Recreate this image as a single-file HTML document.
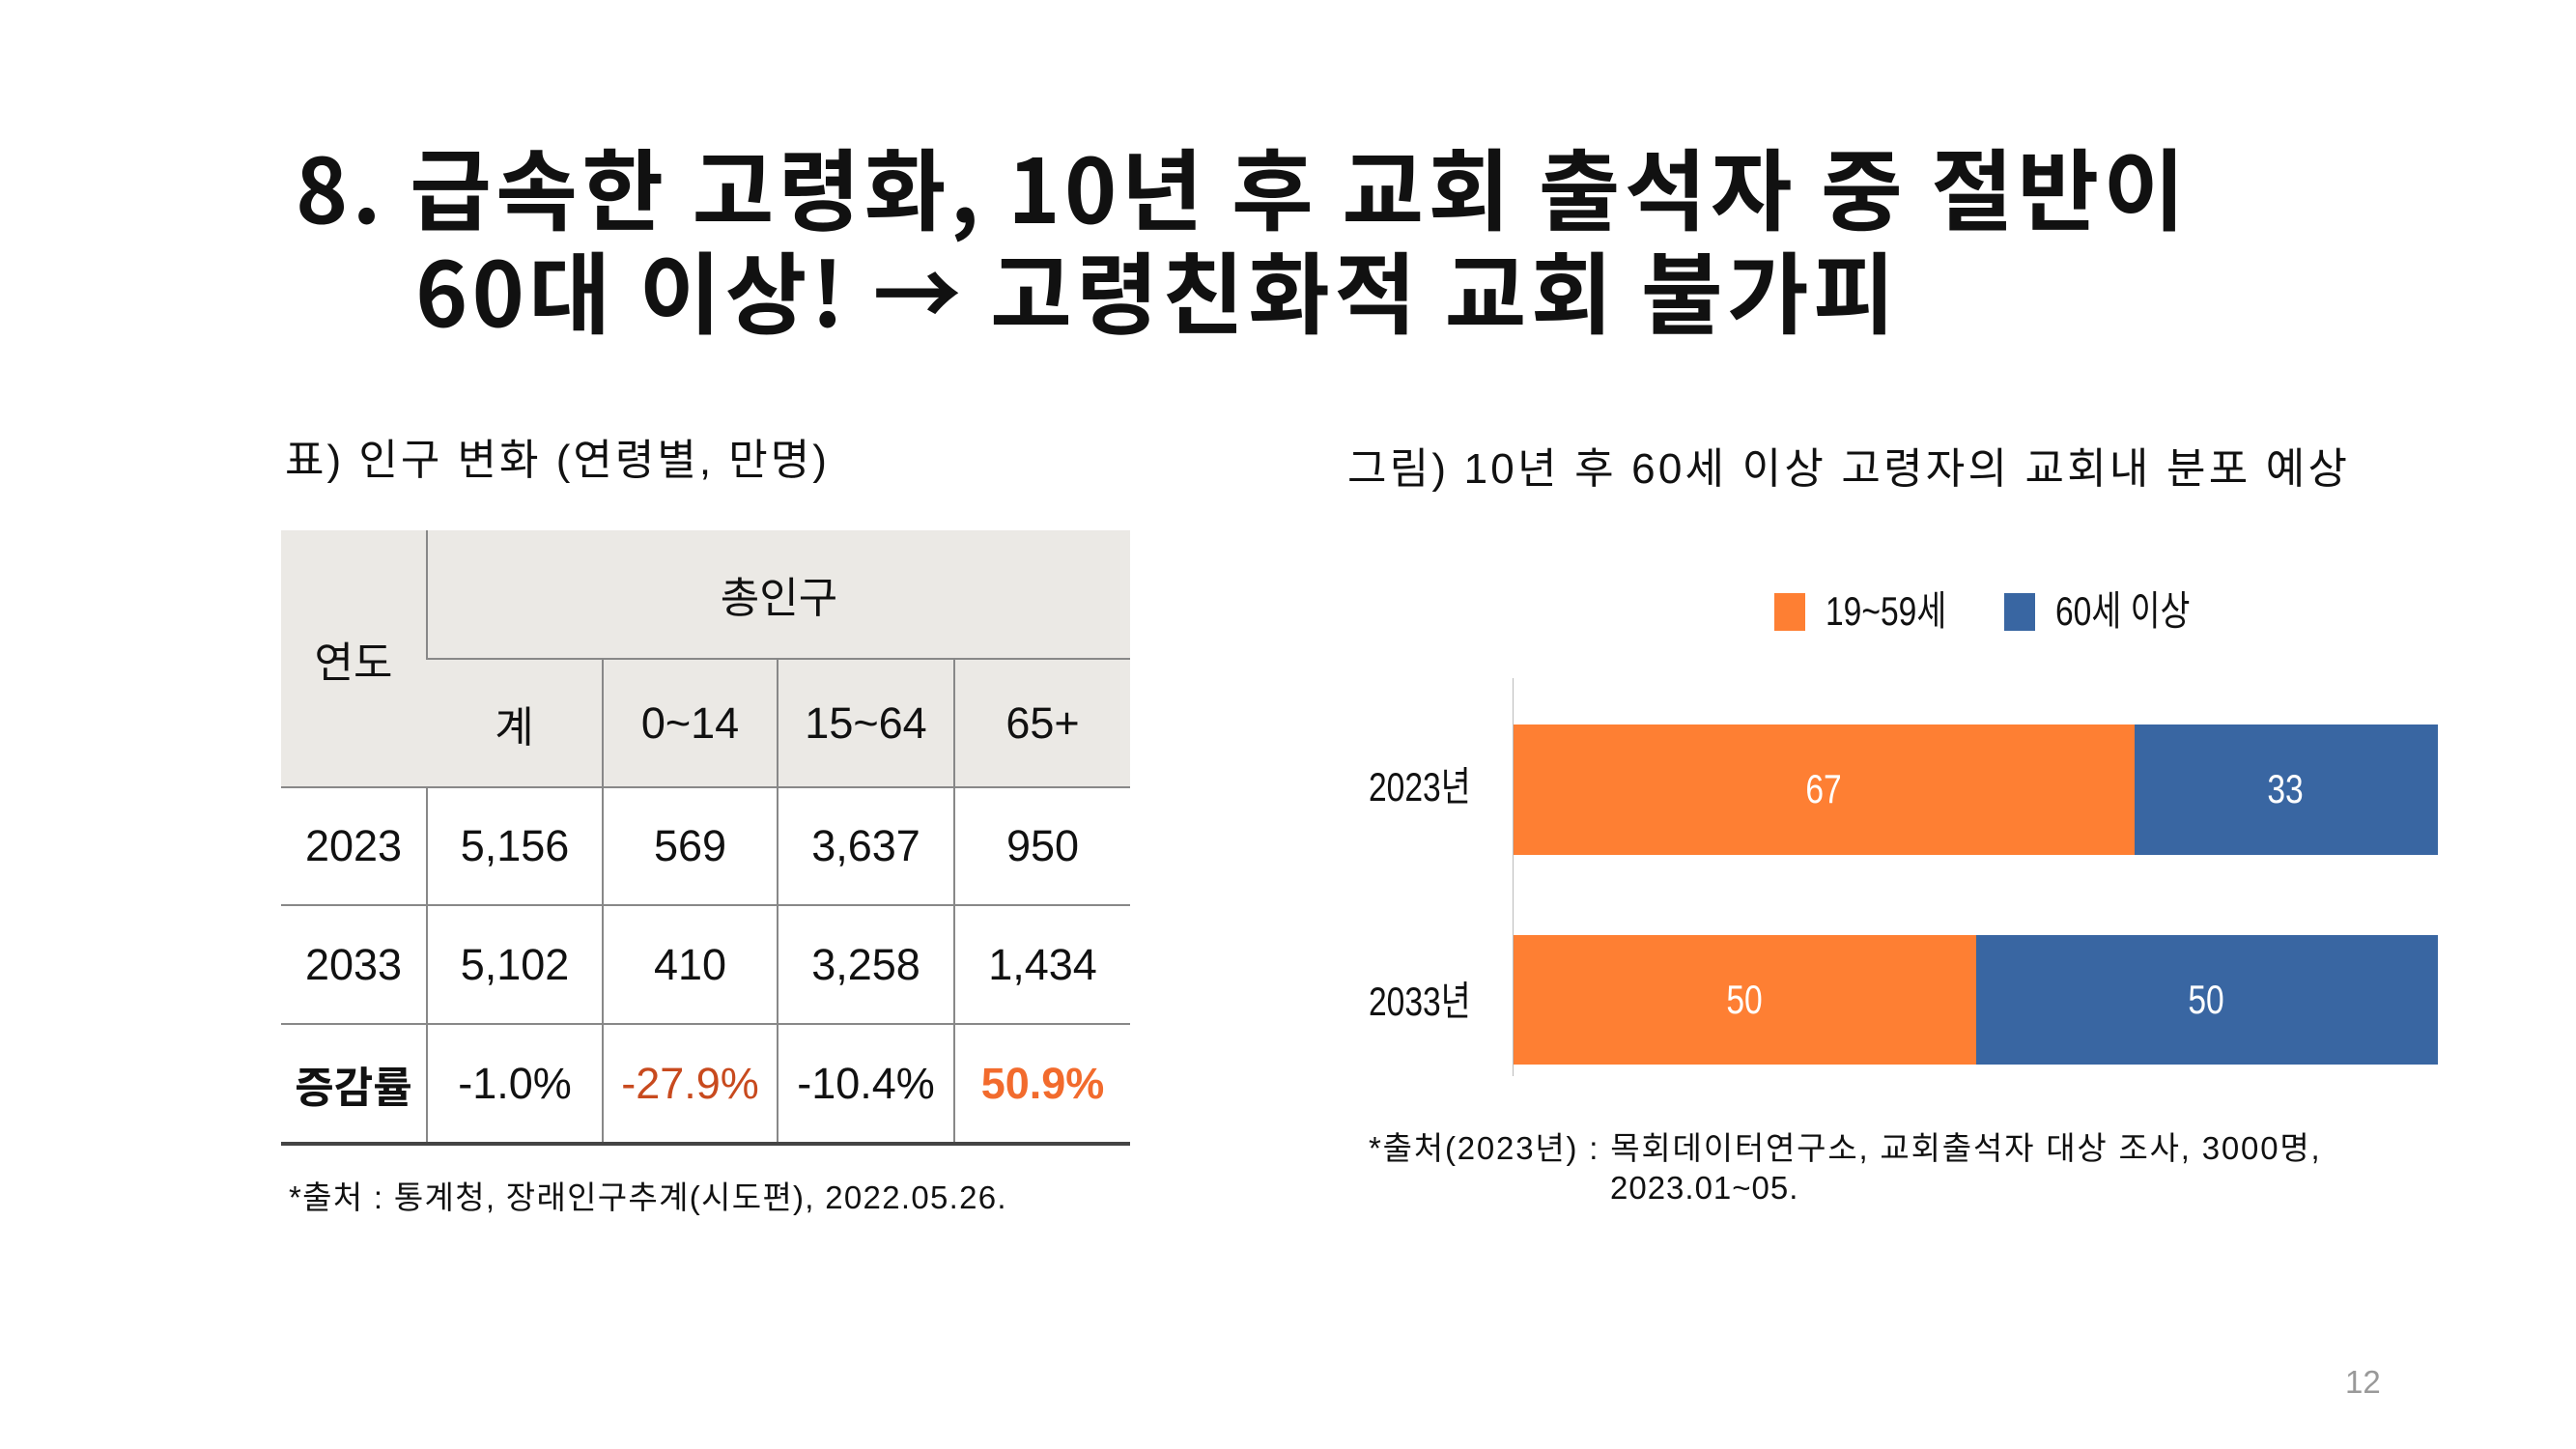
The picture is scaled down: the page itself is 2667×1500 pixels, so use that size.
<!DOCTYPE html>
<html><head><meta charset="utf-8"><style>
*{margin:0;padding:0;box-sizing:border-box}
body{width:2667px;height:1500px;background:#fff;position:relative;overflow:hidden;font-family:"Liberation Sans","Noto Sans CJK KR",sans-serif;color:#111}
.a{position:absolute;white-space:nowrap;line-height:1}
.t{font-weight:bold;font-size:92px;font-family:"Noto Sans CJK KR",sans-serif;letter-spacing:4.4px}
table{position:absolute;left:291px;top:549px;width:879px;border-collapse:collapse;font-family:"Noto Sans CJK KR",sans-serif;font-size:44px}
td{text-align:center;border-left:2px solid #888;border-top:2px solid #888;padding:0}
td:first-child{border-left:none}
.h{background:#ebe9e5}
.n{font-family:"Liberation Sans","Noto Sans CJK KR",sans-serif;font-size:45px}
.c{transform:scaleX(0.8);transform-origin:0 0}
.cc{transform:translateX(-50%) scaleX(0.8)}
</style></head><body>
<div class="a t" style="left:306px;top:146px">8. 급속한 고령화, 10년 후 교회 출석자 중 절반이</div>
<div class="a t" style="left:430px;top:253px">60대 이상! → 고령친화적 교회 불가피</div>
<div class="a" style="left:295px;top:455px;font-size:44px;letter-spacing:3px">표) 인구 변화 (연령별, 만명)</div>
<div class="a" style="left:1395px;top:464px;font-size:44px;letter-spacing:3.2px">그림) 10년 후 60세 이상 고령자의 교회내 분포 예상</div>

<table>
<tr style="height:133px"><td class="h" rowspan="2" style="width:151px;border-top:none">연도</td><td class="h" colspan="4" style="border-top:none">총인구</td></tr>
<tr style="height:133px"><td class="h" style="width:182px">계</td><td class="h n" style="width:181px">0~14</td><td class="h n" style="width:183px">15~64</td><td class="h n">65+</td></tr>
<tr style="height:122px"><td class="n">2023</td><td class="n">5,156</td><td class="n">569</td><td class="n">3,637</td><td class="n">950</td></tr>
<tr style="height:123px"><td class="n">2033</td><td class="n">5,102</td><td class="n">410</td><td class="n">3,258</td><td class="n">1,434</td></tr>
<tr style="height:124px;border-bottom:4px solid #444"><td style="font-weight:bold">증감률</td><td class="n">-1.0%</td><td class="n" style="color:#c84a1e">-27.9%</td><td class="n">-10.4%</td><td class="n" style="color:#f26b2d;font-weight:bold">50.9%</td></tr>
</table>
<div class="a" style="left:299px;top:1223px;font-size:33px;letter-spacing:1.3px">*출처 : 통계청, 장래인구추계(시도편), 2022.05.26.</div>

<div class="a" style="left:1837px;top:614px;width:32px;height:39px;background:#fe7f33"></div>
<div class="a c" style="left:1890px;top:612px;font-size:42px">19~59세</div>
<div class="a" style="left:2075px;top:614px;width:32px;height:39px;background:#3966a2"></div>
<div class="a c" style="left:2128px;top:612px;font-size:42px">60세 이상</div>
<div class="a" style="left:1566px;top:702px;width:1px;height:412px;background:#bbb"></div>
<div class="a" style="left:1567px;top:750px;width:643px;height:135px;background:#fe7f33"></div>
<div class="a" style="left:2210px;top:750px;width:314px;height:135px;background:#3966a2"></div>
<div class="a" style="left:1567px;top:968px;width:479px;height:134px;background:#fe7f33"></div>
<div class="a" style="left:2046px;top:968px;width:478px;height:134px;background:#3966a2"></div>
<div class="a c" style="left:1417px;top:794px;font-size:42px">2023년</div>
<div class="a c" style="left:1417px;top:1016px;font-size:42px">2033년</div>
<div class="a cc" style="left:1888px;top:796px;font-size:42px;color:#fff">67</div>
<div class="a cc" style="left:2366px;top:796px;font-size:42px;color:#fff">33</div>
<div class="a cc" style="left:1806px;top:1014px;font-size:42px;color:#fff">50</div>
<div class="a cc" style="left:2284px;top:1014px;font-size:42px;color:#fff">50</div>
<div class="a" style="left:1417px;top:1172px;font-size:33px;letter-spacing:1.8px">*출처(2023년) : 목회데이터연구소, 교회출석자 대상 조사, 3000명,</div>
<div class="a" style="left:1667px;top:1213px;font-size:33px;letter-spacing:1px">2023.01~05.</div>
<div class="a" style="left:2428px;top:1414px;font-size:33px;color:#999">12</div>
</body></html>
